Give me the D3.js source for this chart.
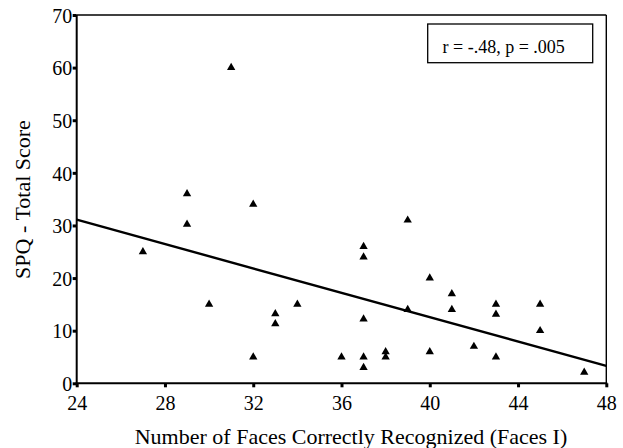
<!DOCTYPE html>
<html><head><meta charset="utf-8">
<script src="https://cdn.jsdelivr.net/npm/d3@7"></script>
<style>body{margin:0;background:#fff}svg{display:block}</style>
</head><body><svg id="c" width="623" height="448"></svg>
<script>
const facesX = [27,29,29,30,31,32,32,33,33,34,36,37,37,37,37,37,38,38,39,39,40,40,41,41,42,43,43,43,45,45,47];
const spqY   = [25,36,30.2,15,60,34,5,13.2,11.3,15,5,26,24,12.2,5,3,6,5,31,14,20,6,17,14,7,15,13.1,5,15,10,2.1];
const xTicks = [24,28,32,36,40,44,48];
const yTicks = [0,10,20,30,40,50,60,70];
const fitX = [24,48];
const fitY = [31.1,3.3];
const statText = "r = -.48, p = .005";
const xTitle = "Number of Faces Correctly Recognized (Faces I)";
const yTitle = "SPQ - Total Score";

const FONT = "Liberation Serif, Times New Roman, serif";
const svg = d3.select("#c");
const L=76.7, R=606.3, T=15, B=383.3;
const x = d3.scaleLinear().domain([24,48]).range([L,R]);
const y = d3.scaleLinear().domain([0,70]).range([B,T]);

svg.append("line").attr("x1",L).attr("x2",R).attr("y1",T).attr("y2",T).attr("stroke","#000").attr("stroke-width",1.4);
svg.append("line").attr("x1",R).attr("x2",R).attr("y1",T).attr("y2",B).attr("stroke","#000").attr("stroke-width",1.4);

const xAxis = d3.axisBottom(x).tickValues(xTicks).tickSize(4).tickPadding(9).tickFormat(d3.format("d"));
const yAxis = d3.axisLeft(y).tickValues(yTicks).tickSize(4).tickPadding(0.5).tickFormat(d3.format("d"));
const gx = svg.append("g").attr("transform",`translate(0,${B})`).call(xAxis);
const gy = svg.append("g").attr("transform",`translate(${L},0)`).call(yAxis);
[gx,gy].forEach(g=>{
  g.attr("font-family",FONT).attr("font-size",20);
  g.select(".domain").attr("stroke","#000").attr("stroke-width",2);
  g.selectAll(".tick line").attr("stroke","#000").attr("stroke-width",3);
  g.selectAll(".tick text").attr("fill","#000");
});
gx.select(".domain").attr("d",`M${L-1},0H${R+1}`);
gy.select(".domain").attr("d",`M0,${B+1}V${T}`);
gy.selectAll(".tick text").attr("dy","0.36em");

svg.append("line").attr("x1",x(fitX[0])).attr("y1",y(fitY[0])).attr("x2",x(fitX[1])).attr("y2",y(fitY[1]))
  .attr("stroke","#000").attr("stroke-width",2.4);

const tri = d3.symbol().type(d3.symbolTriangle).size(30);
svg.append("g").selectAll("path").data(facesX.map((d,i)=>[d,spqY[i]])).join("path")
  .attr("d",tri).attr("transform",d=>`translate(${x(d[0])},${y(d[1])})`).attr("fill","#000");

svg.append("rect").attr("x",427.7).attr("y",24).attr("width",165).attr("height",38.7).attr("fill","#fff").attr("stroke","#000").attr("stroke-width",1.3);
svg.append("text").attr("x",442.5).attr("y",53).attr("font-family",FONT).attr("font-size",18).text(statText);

svg.append("text").attr("x",351).attr("y",444).attr("text-anchor","middle").attr("font-family",FONT).attr("font-size",22).text(xTitle);
svg.append("text").attr("transform","translate(29.5,199.5) rotate(-90)").attr("text-anchor","middle").attr("font-family",FONT).attr("font-size",22).text(yTitle);
</script></body></html>
